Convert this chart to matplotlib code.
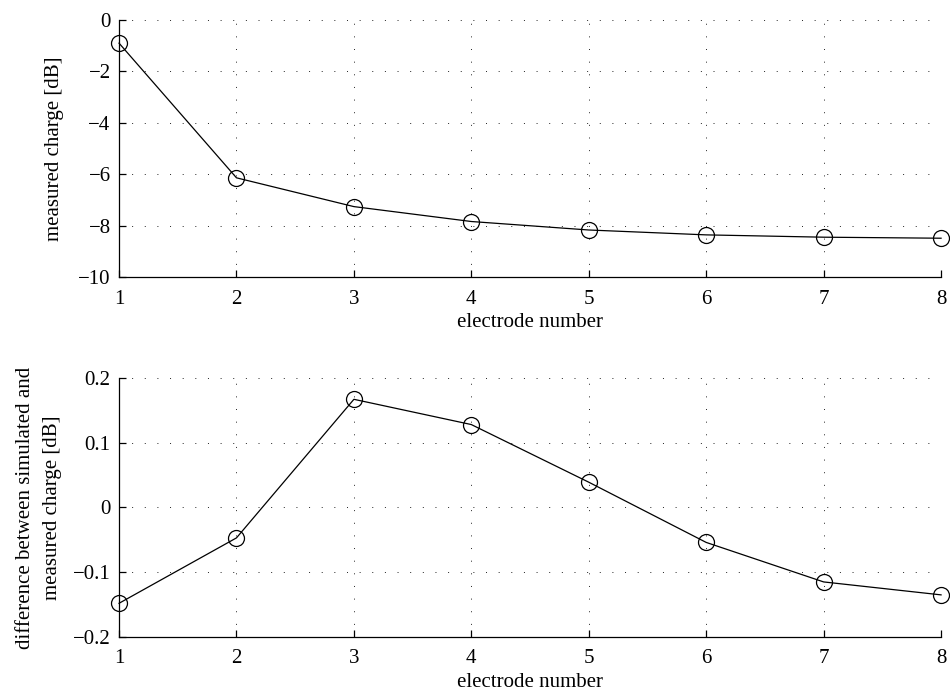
import matplotlib
matplotlib.use("Agg")
import matplotlib.pyplot as plt

plt.rcParams['font.family'] = ['Liberation Serif', 'DejaVu Serif']
plt.rcParams['font.size'] = 15
plt.rcParams['axes.unicode_minus'] = True

# data
electrodes = [1, 2, 3, 4, 5, 6, 7, 8]
measured_db = [-0.90, -6.14, -7.26, -7.84, -8.17, -8.36, -8.45, -8.49]
diff_db = [-0.148, -0.047, 0.167, 0.128, 0.039, -0.054, -0.115, -0.135]

top_yticks = [-10, -8, -6, -4, -2, 0]
top_ylabels = ['\u221210', '\u22128', '\u22126', '\u22124', '\u22122', '0']
bot_yticks = [-0.2, -0.1, 0, 0.1, 0.2]
bot_ylabels = ['\u22120.2', '\u22120.1', '0', '0.1', '0.2']

fig = plt.figure(figsize=(9.5, 6.95), dpi=100)
ax1 = fig.add_axes([0.1253, 0.6014, 0.8653, 0.3698])
ax2 = fig.add_axes([0.1253, 0.0835, 0.8653, 0.3727])


def style(ax):
    for s in ['top', 'right']:
        ax.spines[s].set_visible(False)
    for s in ['left', 'bottom']:
        ax.spines[s].set_linewidth(0.9)
    ax.tick_params(direction='in', length=5, width=0.9, top=False, right=False,
                   labelsize=15)
    ax.tick_params(axis='x', pad=9)
    ax.tick_params(axis='y', pad=6)
    ax.grid(True, color='#222222', linestyle=(0, (1, 12)), linewidth=0.7)
    ax.set_xlim(1, 8)
    ax.set_xticks(electrodes)
    ax.set_xlabel('electrode number', fontsize=15, labelpad=3)


ax1.plot(electrodes, measured_db, color='black', linewidth=0.9, marker='o',
         markersize=11.5, markerfacecolor='none', markeredgecolor='black',
         markeredgewidth=0.9, clip_on=False, zorder=3)
style(ax1)
ax1.set_ylim(-10, 0)
ax1.set_yticks(top_yticks)
ax1.set_yticklabels(top_ylabels)
ax1.set_ylabel('measured charge [dB]', fontsize=15, labelpad=10)

ax2.plot(electrodes, diff_db, color='black', linewidth=0.9, marker='o',
         markersize=11.5, markerfacecolor='none', markeredgecolor='black',
         markeredgewidth=0.9, clip_on=False, zorder=3)
style(ax2)
ax2.set_ylim(-0.2, 0.2)
ax2.set_yticks(bot_yticks)
ax2.set_yticklabels(bot_ylabels)
ax2.set_ylabel('difference between simulated and\nmeasured charge [dB]',
               fontsize=15, labelpad=8, linespacing=1.55)

fig.savefig('out.png', dpi=100)
